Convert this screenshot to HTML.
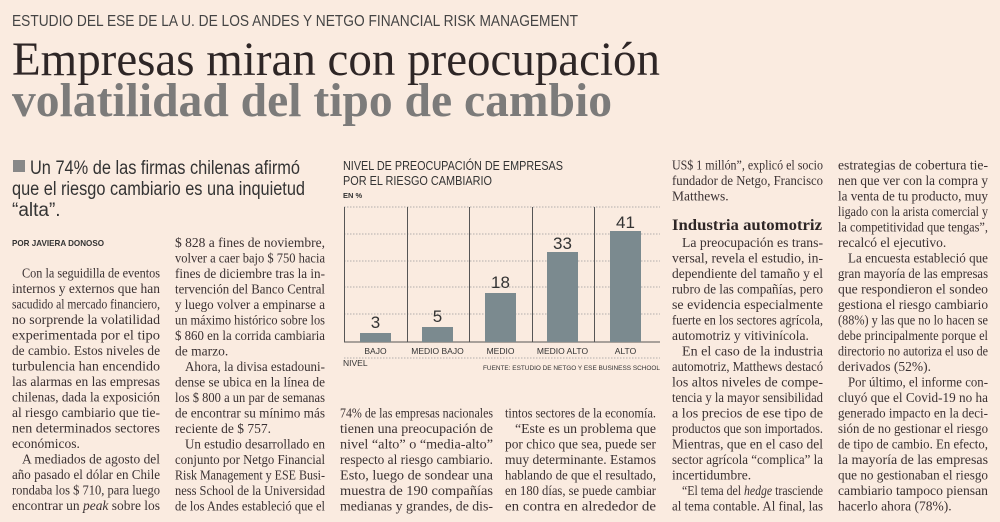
<!DOCTYPE html>
<html><head><meta charset="utf-8"><style>
html,body{margin:0;padding:0;background:#faebe0;}
svg{display:block}
.b{font-family:"Liberation Serif",serif;font-size:13.5px;fill:#3a3132;}
.s{font-family:"Liberation Sans",sans-serif;}
</style></head><body>
<svg width="1000" height="522" viewBox="0 0 1000 522" xmlns="http://www.w3.org/2000/svg">
<rect width="1000" height="522" fill="#faebe0"/>
<text x="12" y="26" class="s" font-size="16" fill="#444" textLength="566" lengthAdjust="spacingAndGlyphs">ESTUDIO DEL ESE DE LA U. DE LOS ANDES Y NETGO FINANCIAL RISK MANAGEMENT</text>
<text x="12" y="75" font-family="Liberation Serif,serif" font-size="48" fill="#2e2626" textLength="648" lengthAdjust="spacingAndGlyphs">Empresas miran con preocupación</text>
<text x="12" y="116" font-family="Liberation Serif,serif" font-weight="bold" font-size="48" fill="#7c7b7a" textLength="600" lengthAdjust="spacingAndGlyphs">volatilidad del tipo de cambio</text>

<rect x="13" y="160" width="12" height="12" fill="#888"/>
<text class="s" font-size="19" fill="#333">
<tspan x="30" y="174" textLength="270" lengthAdjust="spacingAndGlyphs">Un 74% de las firmas chilenas afirmó</tspan>
<tspan x="12" y="195" textLength="293" lengthAdjust="spacingAndGlyphs">que el riesgo cambiario es una inquietud</tspan>
<tspan x="12" y="216">“alta”.</tspan></text>
<text x="12" y="246" class="s" font-size="8.5" font-weight="bold" fill="#333" textLength="92" lengthAdjust="spacingAndGlyphs">POR JAVIERA DONOSO</text>

<g class="b">
<text x="22" y="277.5" textLength="138" lengthAdjust="spacingAndGlyphs">Con la seguidilla de eventos</text>
<text x="12" y="293" textLength="148" lengthAdjust="spacingAndGlyphs">internos y externos que han</text>
<text x="12" y="308.5" textLength="148" lengthAdjust="spacingAndGlyphs">sacudido al mercado financiero,</text>
<text x="12" y="324" textLength="148" lengthAdjust="spacingAndGlyphs">no sorprende la volatilidad</text>
<text x="12" y="339.5" textLength="148" lengthAdjust="spacingAndGlyphs">experimentada por el tipo</text>
<text x="12" y="355" textLength="148" lengthAdjust="spacingAndGlyphs">de cambio. Estos niveles de</text>
<text x="12" y="370.5" textLength="148" lengthAdjust="spacingAndGlyphs">turbulencia han encendido</text>
<text x="12" y="386" textLength="148" lengthAdjust="spacingAndGlyphs">las alarmas en las empresas</text>
<text x="12" y="401.5" textLength="148" lengthAdjust="spacingAndGlyphs">chilenas, dada la exposición</text>
<text x="12" y="417" textLength="148" lengthAdjust="spacingAndGlyphs">al riesgo cambiario que tie-</text>
<text x="12" y="432.5" textLength="148" lengthAdjust="spacingAndGlyphs">nen determinados sectores</text>
<text x="12" y="448">económicos.</text>
<text x="22" y="463.5" textLength="138" lengthAdjust="spacingAndGlyphs">A mediados de agosto del</text>
<text x="12" y="479" textLength="148" lengthAdjust="spacingAndGlyphs">año pasado el dólar en Chile</text>
<text x="12" y="494.5" textLength="148" lengthAdjust="spacingAndGlyphs">rondaba los $ 710, para luego</text>
<text x="12" y="510" textLength="148" lengthAdjust="spacingAndGlyphs">encontrar un <tspan font-style="italic">peak</tspan> sobre los</text>

<text x="175" y="247" textLength="150" lengthAdjust="spacingAndGlyphs">$ 828 a fines de noviembre,</text>
<text x="175" y="262.5" textLength="150" lengthAdjust="spacingAndGlyphs">volver a caer bajo $ 750 hacia</text>
<text x="175" y="278" textLength="150" lengthAdjust="spacingAndGlyphs">fines de diciembre tras la in-</text>
<text x="175" y="293.5" textLength="150" lengthAdjust="spacingAndGlyphs">tervención del Banco Central</text>
<text x="175" y="309" textLength="150" lengthAdjust="spacingAndGlyphs">y luego volver a empinarse a</text>
<text x="175" y="324.5" textLength="150" lengthAdjust="spacingAndGlyphs">un máximo histórico sobre los</text>
<text x="175" y="340" textLength="150" lengthAdjust="spacingAndGlyphs">$ 860 en la corrida cambiaria</text>
<text x="175" y="355.5">de marzo.</text>
<text x="185" y="371" textLength="140" lengthAdjust="spacingAndGlyphs">Ahora, la divisa estadouni-</text>
<text x="175" y="386.5" textLength="150" lengthAdjust="spacingAndGlyphs">dense se ubica en la línea de</text>
<text x="175" y="402" textLength="150" lengthAdjust="spacingAndGlyphs">los $ 800 a un par de semanas</text>
<text x="175" y="417.5" textLength="150" lengthAdjust="spacingAndGlyphs">de encontrar su mínimo más</text>
<text x="175" y="433">reciente de $ 757.</text>
<text x="185" y="448.5" textLength="140" lengthAdjust="spacingAndGlyphs">Un estudio desarrollado en</text>
<text x="175" y="464" textLength="150" lengthAdjust="spacingAndGlyphs">conjunto por Netgo Financial</text>
<text x="175" y="479.5" textLength="150" lengthAdjust="spacingAndGlyphs">Risk Management y ESE Busi-</text>
<text x="175" y="495" textLength="150" lengthAdjust="spacingAndGlyphs">ness School de la Universidad</text>
<text x="175" y="510.5" textLength="150" lengthAdjust="spacingAndGlyphs">de los Andes estableció que el</text>

<text x="340" y="417.5" textLength="153" lengthAdjust="spacingAndGlyphs">74% de las empresas nacionales</text>
<text x="340" y="433" textLength="153" lengthAdjust="spacingAndGlyphs">tienen una preocupación de</text>
<text x="340" y="448.5" textLength="153" lengthAdjust="spacingAndGlyphs">nivel “alto” o “media-alto”</text>
<text x="340" y="464" textLength="153" lengthAdjust="spacingAndGlyphs">respecto al riesgo cambiario.</text>
<text x="340" y="479.5" textLength="153" lengthAdjust="spacingAndGlyphs">Esto, luego de sondear una</text>
<text x="340" y="495" textLength="153" lengthAdjust="spacingAndGlyphs">muestra de 190 compañías</text>
<text x="340" y="510.5" textLength="153" lengthAdjust="spacingAndGlyphs">medianas y grandes, de dis-</text>

<text x="505" y="417.5" textLength="151" lengthAdjust="spacingAndGlyphs">tintos sectores de la economía.</text>
<text x="515" y="433" textLength="141" lengthAdjust="spacingAndGlyphs">“Este es un problema que</text>
<text x="505" y="448.5" textLength="151" lengthAdjust="spacingAndGlyphs">por chico que sea, puede ser</text>
<text x="505" y="464" textLength="151" lengthAdjust="spacingAndGlyphs">muy determinante. Estamos</text>
<text x="505" y="479.5" textLength="151" lengthAdjust="spacingAndGlyphs">hablando de que el resultado,</text>
<text x="505" y="495" textLength="151" lengthAdjust="spacingAndGlyphs">en 180 días, se puede cambiar</text>
<text x="505" y="510.5" textLength="151" lengthAdjust="spacingAndGlyphs">en contra en alrededor de</text>

<text x="672" y="169.5" textLength="151" lengthAdjust="spacingAndGlyphs">US$ 1 millón”, explicó el socio</text>
<text x="672" y="185" textLength="151" lengthAdjust="spacingAndGlyphs">fundador de Netgo, Francisco</text>
<text x="672" y="200.5">Matthews.</text>
<text x="672" y="230" font-weight="bold" font-size="16" fill="#2e2626" textLength="150" lengthAdjust="spacingAndGlyphs">Industria automotriz</text>
<text x="682" y="247" textLength="141" lengthAdjust="spacingAndGlyphs">La preocupación es trans-</text>
<text x="672" y="262.5" textLength="151" lengthAdjust="spacingAndGlyphs">versal, revela el estudio, in-</text>
<text x="672" y="278" textLength="151" lengthAdjust="spacingAndGlyphs">dependiente del tamaño y el</text>
<text x="672" y="293.5" textLength="151" lengthAdjust="spacingAndGlyphs">rubro de las compañías, pero</text>
<text x="672" y="309" textLength="151" lengthAdjust="spacingAndGlyphs">se evidencia especialmente</text>
<text x="672" y="324.5" textLength="151" lengthAdjust="spacingAndGlyphs">fuerte en los sectores agrícola,</text>
<text x="672" y="340">automotriz y vitivinícola.</text>
<text x="682" y="355.5" textLength="141" lengthAdjust="spacingAndGlyphs">En el caso de la industria</text>
<text x="672" y="371" textLength="151" lengthAdjust="spacingAndGlyphs">automotriz, Matthews destacó</text>
<text x="672" y="386.5" textLength="151" lengthAdjust="spacingAndGlyphs">los altos niveles de compe-</text>
<text x="672" y="402" textLength="151" lengthAdjust="spacingAndGlyphs">tencia y la mayor sensibilidad</text>
<text x="672" y="417.5" textLength="151" lengthAdjust="spacingAndGlyphs">a los precios de ese tipo de</text>
<text x="672" y="433" textLength="151" lengthAdjust="spacingAndGlyphs">productos que son importados.</text>
<text x="672" y="448.5" textLength="151" lengthAdjust="spacingAndGlyphs">Mientras, que en el caso del</text>
<text x="672" y="464" textLength="151" lengthAdjust="spacingAndGlyphs">sector agrícola “complica” la</text>
<text x="672" y="479.5">incertidumbre.</text>
<text x="682" y="495" textLength="141" lengthAdjust="spacingAndGlyphs">“El tema del <tspan font-style="italic">hedge</tspan> trasciende</text>
<text x="672" y="510.5" textLength="151" lengthAdjust="spacingAndGlyphs">al tema contable. Al final, las</text>

<text x="838" y="169.5" textLength="150" lengthAdjust="spacingAndGlyphs">estrategias de cobertura tie-</text>
<text x="838" y="185" textLength="150" lengthAdjust="spacingAndGlyphs">nen que ver con la compra y</text>
<text x="838" y="200.5" textLength="150" lengthAdjust="spacingAndGlyphs">la venta de tu producto, muy</text>
<text x="838" y="216" textLength="150" lengthAdjust="spacingAndGlyphs">ligado con la arista comercial y</text>
<text x="838" y="231.5" textLength="150" lengthAdjust="spacingAndGlyphs">la competitividad que tengas”,</text>
<text x="838" y="247">recalcó el ejecutivo.</text>
<text x="848" y="262.5" textLength="140" lengthAdjust="spacingAndGlyphs">La encuesta estableció que</text>
<text x="838" y="278" textLength="150" lengthAdjust="spacingAndGlyphs">gran mayoría de las empresas</text>
<text x="838" y="293.5" textLength="150" lengthAdjust="spacingAndGlyphs">que respondieron el sondeo</text>
<text x="838" y="309" textLength="150" lengthAdjust="spacingAndGlyphs">gestiona el riesgo cambiario</text>
<text x="838" y="324.5" textLength="150" lengthAdjust="spacingAndGlyphs">(88%) y las que no lo hacen se</text>
<text x="838" y="340" textLength="150" lengthAdjust="spacingAndGlyphs">debe principalmente porque el</text>
<text x="838" y="355.5" textLength="150" lengthAdjust="spacingAndGlyphs">directorio no autoriza el uso de</text>
<text x="838" y="371">derivados (52%).</text>
<text x="848" y="386.5" textLength="140" lengthAdjust="spacingAndGlyphs">Por último, el informe con-</text>
<text x="838" y="402" textLength="150" lengthAdjust="spacingAndGlyphs">cluyó que el Covid-19 no ha</text>
<text x="838" y="417.5" textLength="150" lengthAdjust="spacingAndGlyphs">generado impacto en la deci-</text>
<text x="838" y="433" textLength="150" lengthAdjust="spacingAndGlyphs">sión de no gestionar el riesgo</text>
<text x="838" y="448.5" textLength="150" lengthAdjust="spacingAndGlyphs">de tipo de cambio. En efecto,</text>
<text x="838" y="464" textLength="150" lengthAdjust="spacingAndGlyphs">la mayoría de las empresas</text>
<text x="838" y="479.5" textLength="150" lengthAdjust="spacingAndGlyphs">que no gestionaban el riesgo</text>
<text x="838" y="495" textLength="150" lengthAdjust="spacingAndGlyphs">cambiario tampoco piensan</text>
<text x="838" y="510.5">hacerlo ahora (78%).</text>
</g>

<!-- chart -->
<g class="s" fill="#333">
<text x="343" y="170" font-size="13" textLength="220" lengthAdjust="spacingAndGlyphs">NIVEL DE PREOCUPACIÓN DE EMPRESAS</text>
<text x="343" y="185" font-size="13" textLength="149" lengthAdjust="spacingAndGlyphs">POR EL RIESGO CAMBIARIO</text>
<text x="343" y="198" font-size="7.5" font-weight="bold">EN %</text>
</g>
<g stroke="#999" stroke-width="0.8" stroke-dasharray="1.5,1.5">
<line x1="344" y1="207" x2="660" y2="207"/><line x1="344" y1="234" x2="660" y2="234"/>
<line x1="344" y1="261" x2="660" y2="261"/><line x1="344" y1="287" x2="660" y2="287"/>
<line x1="344" y1="314" x2="660" y2="314"/><line x1="344" y1="358" x2="660" y2="358"/>
</g>
<g stroke="#555" stroke-width="1">
<line x1="344.5" y1="207" x2="344.5" y2="342"/><line x1="407.5" y1="207" x2="407.5" y2="342"/>
<line x1="469.5" y1="207" x2="469.5" y2="342"/><line x1="532.5" y1="207" x2="532.5" y2="342"/>
<line x1="594.5" y1="207" x2="594.5" y2="342"/><line x1="344" y1="342" x2="660" y2="342"/>
</g>
<g fill="#7b8a8f">
<rect x="360" y="333" width="31" height="9"/><rect x="422" y="327" width="31" height="15"/>
<rect x="485" y="293" width="31" height="49"/><rect x="547" y="252" width="31" height="90"/>
<rect x="610" y="231" width="31" height="111"/>
</g>
<g class="s" font-size="17" fill="#333" text-anchor="middle">
<text x="375.5" y="328">3</text><text x="437.5" y="322">5</text><text x="500.5" y="288">18</text>
<text x="562.5" y="249">33</text><text x="625.5" y="228">41</text>
</g>
<g class="s" font-size="8.5" fill="#333" text-anchor="middle">
<text x="375.5" y="354">BAJO</text><text x="437.5" y="354">MEDIO BAJO</text><text x="500.5" y="354">MEDIO</text>
<text x="562.5" y="354">MEDIO ALTO</text><text x="625.5" y="354">ALTO</text>
</g>
<text x="343" y="366" class="s" font-size="8.5" fill="#333">NIVEL</text>
<text x="483" y="370" class="s" font-size="6.5" fill="#333" textLength="177" lengthAdjust="spacingAndGlyphs">FUENTE: ESTUDIO DE NETGO Y ESE BUSINESS SCHOOL</text>
</svg>
</body></html>
